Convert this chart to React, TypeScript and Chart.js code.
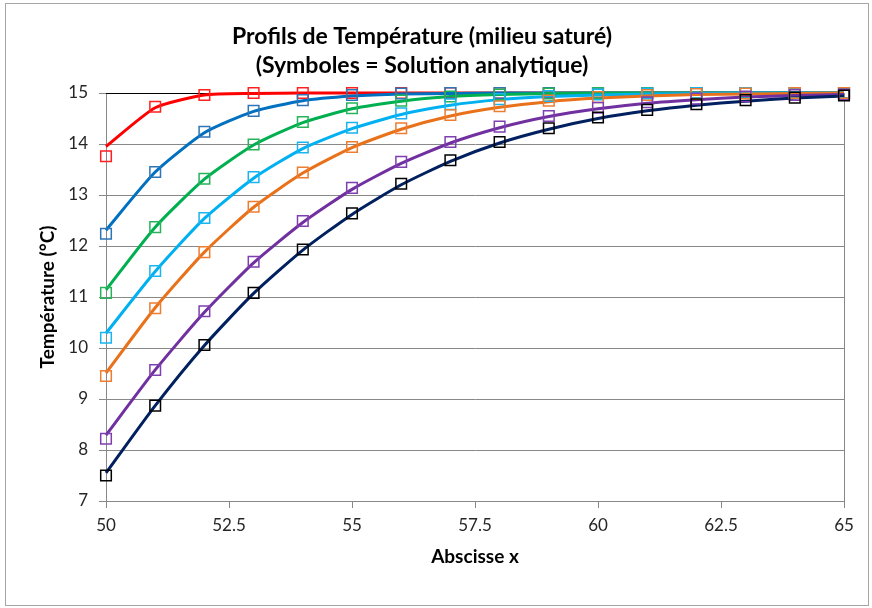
import React, { useEffect, useRef } from 'react';
import { Chart, registerables } from 'chart.js';

Chart.register(...registerables);

const xValues = [50, 51, 52, 53, 54, 55, 56, 57, 58, 59, 60, 61, 62, 63, 64, 65];

// Numerical profiles (lines)
const redLine = [13.95, 14.71, 14.96, 14.99, 15, 15, 15, 15, 15, 15, 15, 15, 15, 15, 15, 15];
const blueLine = [12.31, 13.45, 14.22, 14.64, 14.85, 14.94, 14.98, 14.99, 15, 15, 15, 15, 15, 15, 15, 15];
const greenLine = [11.14, 12.37, 13.31, 13.98, 14.42, 14.69, 14.84, 14.93, 14.97, 14.99, 15, 15, 15, 15, 15, 15];
const cyanLine = [10.29, 11.5, 12.54, 13.33, 13.91, 14.3, 14.58, 14.76, 14.87, 14.93, 14.96, 14.98, 14.99, 15, 15, 15];
const orangeLine = [9.51, 10.79, 11.88, 12.76, 13.43, 13.93, 14.29, 14.55, 14.72, 14.83, 14.9, 14.94, 14.97, 14.98, 14.99, 15];
const purpleLine = [8.29, 9.57, 10.7, 11.67, 12.46, 13.11, 13.62, 14.02, 14.32, 14.54, 14.69, 14.8, 14.87, 14.92, 14.95, 14.97];
const navyLine = [7.55, 8.87, 10.05, 11.07, 11.92, 12.62, 13.2, 13.66, 14.02, 14.29, 14.5, 14.65, 14.76, 14.84, 14.9, 14.94];

// Analytic solution (symbols)
const redSym = [13.76, 14.73, 14.96, 15, 15, 15, 15, 15, 15, 15, 15, 15, 15, 15, 15, 15];
const blueSym = [12.24, 13.45, 14.24, 14.65, 14.86, 14.96, 14.99, 15, 15, 15, 15, 15, 15, 15, 15, 15];
const greenSym = [11.08, 12.37, 13.32, 13.99, 14.43, 14.7, 14.85, 14.93, 14.97, 14.99, 15, 15, 15, 15, 15, 15];
const cyanSym = [10.2, 11.51, 12.55, 13.35, 13.93, 14.32, 14.6, 14.78, 14.88, 14.94, 14.97, 14.99, 15, 15, 15, 15];
const orangeSym = [9.45, 10.78, 11.88, 12.77, 13.44, 13.94, 14.31, 14.57, 14.74, 14.85, 14.92, 14.96, 14.98, 14.99, 15, 15];
const purpleSym = [8.22, 9.57, 10.72, 11.69, 12.49, 13.14, 13.65, 14.04, 14.34, 14.55, 14.71, 14.82, 14.89, 14.93, 14.96, 14.97];
const blackSym = [7.5, 8.87, 10.06, 11.08, 11.93, 12.64, 13.22, 13.68, 14.04, 14.31, 14.52, 14.67, 14.78, 14.86, 14.91, 14.95];

const lineSeries = [redLine, blueLine, greenLine, cyanLine, orangeLine, purpleLine, navyLine];
const symSeries = [redSym, blueSym, greenSym, cyanSym, orangeSym, purpleSym, blackSym];
const lineColors = ['#FF0000', '#0070C0', '#00B050', '#00B0F0', '#E8711A', '#7030A0', '#002060'];
const symColors = ['#FF2020', '#2E75B6', '#27B35A', '#1AB4F0', '#ED7D31', '#7F3FB0', '#000000'];

const titleLines = ['Profils de Température (milieu saturé)', '(Symboles = Solution analytique)'];
const xTitle = 'Abscisse x';
const yTitle = 'Température (°C)';

const FONT = 'Lato, "Open Sans", sans-serif';

const framePlugin = {
  id: 'frame',
  beforeDraw(chart: any) {
    const ctx = chart.ctx;
    ctx.save();
    ctx.fillStyle = '#ffffff';
    ctx.fillRect(0, 0, chart.width, chart.height);
    ctx.strokeStyle = '#a6a6a6';
    ctx.lineWidth = 1;
    ctx.strokeRect(5.5, 3.5, chart.width - 9, chart.height - 6);
    ctx.restore();
  },
  beforeDatasetsDraw(chart: any) {
    const { left, right, top, bottom } = chart.chartArea;
    const ctx = chart.ctx;
    ctx.save();
    ctx.lineWidth = 1;
    ctx.strokeStyle = '#888888';
    ctx.beginPath();
    ctx.moveTo(Math.round(right) + 0.5, top);
    ctx.lineTo(Math.round(right) + 0.5, bottom + 6);
    ctx.stroke();
    ctx.strokeStyle = '#000000';
    ctx.beginPath();
    ctx.moveTo(left, Math.round(top) + 0.5);
    ctx.lineTo(right, Math.round(top) + 0.5);
    ctx.stroke();
    ctx.restore();
  },
};

export default function App() {
  const canvasRef = useRef<HTMLCanvasElement | null>(null);

  useEffect(() => {
    if (!canvasRef.current) return;
    const datasets: any[] = [];
    lineSeries.forEach((vals, i) => {
      datasets.push({
        type: 'line',
        label: 'num' + i,
        data: xValues.map((x, k) => ({ x, y: vals[k] })),
        borderColor: lineColors[i],
        backgroundColor: lineColors[i],
        borderWidth: 3,
        pointRadius: 0,
        tension: 0.2,
        fill: false,
        clip: 4,
        order: 50 - i,
      });
    });
    symSeries.forEach((vals, i) => {
      datasets.push({
        type: 'line',
        label: 'ana' + i,
        data: xValues.map((x, k) => ({ x, y: vals[k] })),
        showLine: false,
        pointStyle: 'rect',
        pointRadius: 7.5,
        pointBorderWidth: 1.5,
        pointBorderColor: symColors[i],
        pointBackgroundColor: 'rgba(0,0,0,0)',
        borderColor: symColors[i],
        backgroundColor: 'rgba(0,0,0,0)',
        clip: false,
        order: 20 - i,
      });
    });

    const chart = new Chart(canvasRef.current, {
      type: 'line',
      data: { datasets },
      plugins: [framePlugin],
      options: {
        animation: false,
        responsive: false,
        devicePixelRatio: 1,
        layout: { padding: { left: 0, right: 28, top: 0, bottom: 0 } },
        plugins: {
          legend: { display: false },
          tooltip: { enabled: false },
          title: {
            display: true,
            text: titleLines,
            color: '#000000',
            font: { family: FONT, size: 23, weight: 'bold', lineHeight: '29px' },
            padding: { top: 22, bottom: 13 },
          },
        },
        scales: {
          x: {
            type: 'linear',
            min: 50,
            max: 65,
            ticks: {
              stepSize: 2.5,
              color: '#262626',
              padding: 7,
              font: { family: FONT, size: 17 },
              callback: (v: any) => String(v),
              maxRotation: 0,
            },
            grid: { drawOnChartArea: false, drawTicks: true, tickLength: 7, color: '#888888' },
            border: { color: '#888888', width: 1 },
            title: {
              display: true,
              text: xTitle,
              color: '#000000',
              font: { family: FONT, size: 19, weight: 'bold' },
              padding: { top: 4, bottom: 39.6 },
            },
            afterFit: (scale: any) => {
              scale.height = 107;
            },
          },
          y: {
            type: 'linear',
            min: 7,
            max: 15,
            ticks: {
              stepSize: 1,
              color: '#262626',
              padding: 11,
              font: { family: FONT, size: 17 },
            },
            grid: { drawTicks: true, tickLength: 7, color: '#888888', lineWidth: 1 },
            border: { color: '#888888', width: 1 },
            title: {
              display: true,
              text: yTitle,
              color: '#000000',
              font: { family: FONT, size: 19, weight: 'bold' },
              padding: { top: 36.6, bottom: 4 },
            },
            afterFit: (scale: any) => {
              scale.width = 106;
            },
          },
        },
      },
    } as any);
    return () => chart.destroy();
  }, []);

  return (
    <div style={{ position: 'absolute', left: 0, top: 0, width: 872, height: 608, background: '#fff' }}>
      <canvas ref={canvasRef} width={872} height={608} style={{ width: 872, height: 608, display: 'block' }} />
    </div>
  );
}
